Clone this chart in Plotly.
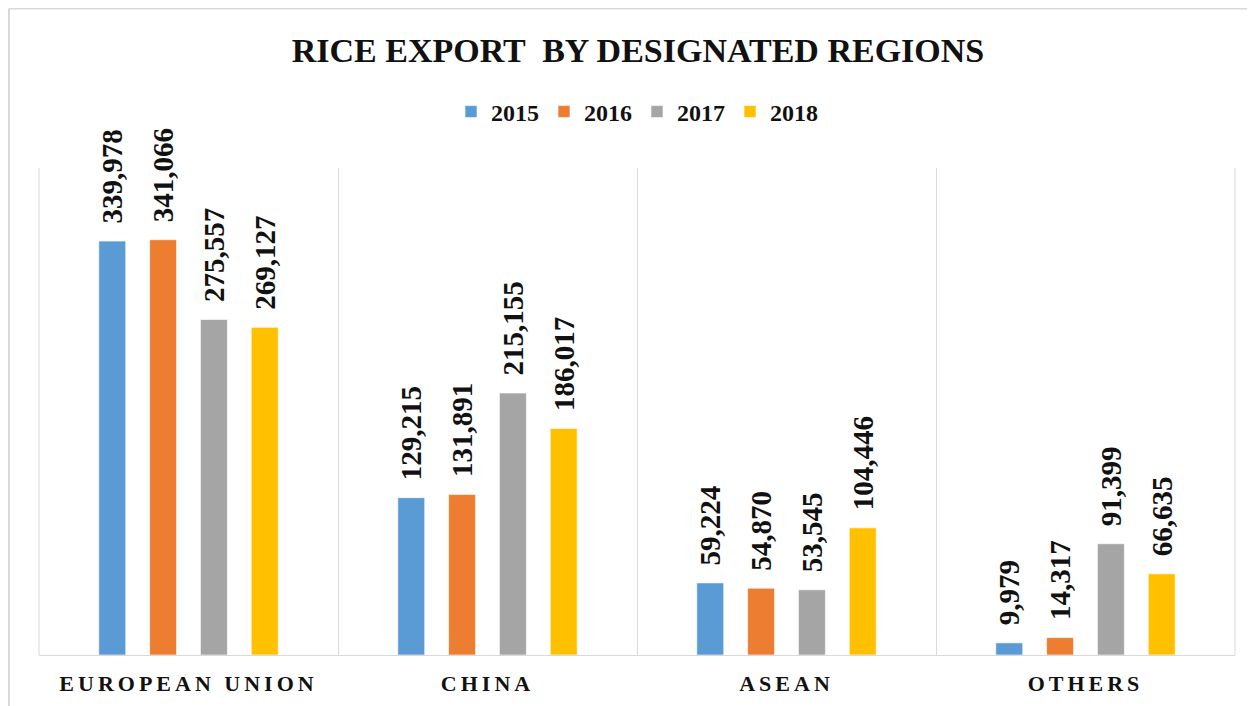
import plotly.graph_objects as go

regions = ["EUROPEAN UNION", "CHINA", "ASEAN", "OTHERS"]
years = ["2015", "2016", "2017", "2018"]
v2015 = [339978, 129215, 59224, 9979]
v2016 = [341066, 131891, 54870, 14317]
v2017 = [275557, 215155, 53545, 91399]
v2018 = [269127, 186017, 104446, 66635]
series_values = [v2015, v2016, v2017, v2018]
colors = ["#5B9BD5", "#ED7D31", "#A5A5A5", "#FFC000"]

SERIF = "Liberation Serif, Times New Roman, serif"

# page body has an 8px margin; figure coordinates are compensated for it
L, T, W, H = 31, 160, 1196, 487
FIG_W, FIG_H = 1255, 706

fig = go.Figure()
for yr, vals, col in zip(years, series_values, colors):
    fig.add_trace(go.Bar(
        name=yr, x=regions, y=vals,
        marker=dict(color=col, line=dict(color="rgba(255,255,255,0.6)", width=1)),
        text=["\u00a0\u00a0" + f"{v:,}" for v in vals],
        textposition="outside", textangle=-90, constraintext="none",
        textfont=dict(family=SERIF, size=29, color="#111111", weight="bold"),
        cliponaxis=False,
    ))

grid = "#d9d9d9"
fig.update_layout(
    width=FIG_W, height=FIG_H,
    paper_bgcolor="white", plot_bgcolor="white",
    margin=dict(l=L, r=FIG_W - L - W, t=T, b=FIG_H - T - H, autoexpand=False),
    barmode="group", bargap=0.32, bargroupgap=0.47,
    title=dict(text="<b>RICE EXPORT  BY DESIGNATED REGIONS</b>", x=(638 - 8) / FIG_W, xanchor="center",
               y=1 - 42 / FIG_H, yanchor="middle", yref="container",
               font=dict(family=SERIF, size=34, color="#111111")),
    legend=dict(orientation="h", x=0.5, xanchor="center", y=1 + (T - 104) / H, yanchor="middle",
                font=dict(family=SERIF, size=24, color="#111111", weight="bold"),
                itemwidth=30, traceorder="normal"),
    xaxis=dict(type="category", tickson="boundaries", showgrid=True, gridcolor=grid,
               gridwidth=1, ticks="", showline=True, linecolor=grid, linewidth=1,
               ticklabelstandoff=9,
               tickvals=regions,
               ticktext=[f"<b><span style='letter-spacing:4px'>{r}</span></b>" for r in regions],
               tickfont=dict(family=SERIF, size=22, color="#111111")),
    yaxis=dict(range=[0, 400000], visible=False, showgrid=False, zeroline=False),
    shapes=[
        dict(type="line", xref="paper", yref="paper", x0=0, x1=0, y0=0, y1=1,
             line=dict(color=grid, width=1)),
        dict(type="line", xref="paper", yref="paper", x0=1, x1=1, y0=0, y1=1,
             line=dict(color=grid, width=1)),
        dict(type="line", xref="paper", yref="paper", x0=(1 - L) / W, x1=1.2,
             y0=1 + (T - 0.5) / H, y1=1 + (T - 0.5) / H, line=dict(color=grid, width=2)),
        dict(type="line", xref="paper", yref="paper", x0=(1 - L) / W, x1=(1 - L) / W,
             y0=1 + (T - 0.5) / H, y1=-0.3, line=dict(color=grid, width=2)),
    ],
)

fig.write_html("out.html")
